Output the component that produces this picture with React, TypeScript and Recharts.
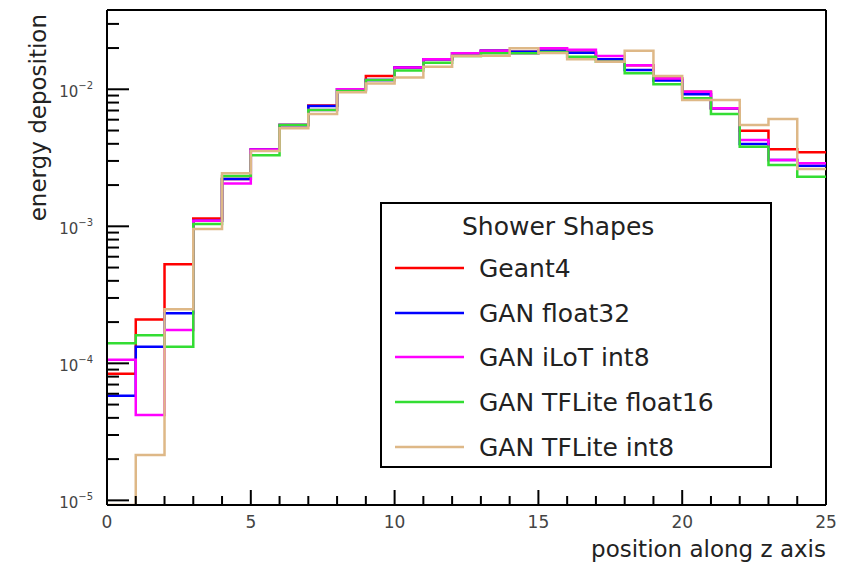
import { ComposedChart, Line, ReferenceLine, XAxis, YAxis } from "recharts";

// bin edges along z (25 bins)
const edges = [0, 1, 2, 3, 4, 5, 6, 7, 8, 9, 10, 11, 12, 13, 14, 15, 16, 17, 18, 19, 20, 21, 22, 23, 24, 25];

const Y_MIN = 9.25e-6;
const Y_MAX = 0.0379;

const geant4 = [8.4e-5, 2.09e-4, 5.28e-4, 1.14e-3, 2.21e-3, 3.64e-3, 5.49e-3, 7.6e-3, 1.0e-2, 1.25e-2, 1.44e-2, 1.66e-2, 1.83e-2, 1.91e-2, 1.88e-2, 1.91e-2, 1.85e-2, 1.66e-2, 1.5e-2, 1.2e-2, 9.6e-3, 7.26e-3, 4.99e-3, 3.65e-3, 3.47e-3];
const ganFloat32 = [5.8e-5, 1.32e-4, 2.32e-4, 1.1e-3, 2.21e-3, 3.64e-3, 5.49e-3, 7.55e-3, 1.0e-2, 1.17e-2, 1.44e-2, 1.66e-2, 1.83e-2, 1.91e-2, 1.88e-2, 1.91e-2, 1.85e-2, 1.66e-2, 1.38e-2, 1.16e-2, 9.2e-3, 7.26e-3, 3.99e-3, 3.05e-3, 2.77e-3];
const ganIlotInt8 = [1.06e-4, 4.2e-5, 1.75e-4, 1.1e-3, 2.05e-3, 3.64e-3, 5.49e-3, 7.06e-3, 1.0e-2, 1.17e-2, 1.44e-2, 1.66e-2, 1.83e-2, 1.91e-2, 1.83e-2, 1.99e-2, 1.94e-2, 1.75e-2, 1.5e-2, 1.2e-2, 9.6e-3, 7.26e-3, 4.27e-3, 3.05e-3, 2.88e-3];
const tfliteFloat16 = [1.4e-4, 1.6e-4, 1.32e-4, 1.04e-3, 2.33e-3, 3.3e-3, 5.49e-3, 7.06e-3, 9.7e-3, 1.17e-2, 1.37e-2, 1.56e-2, 1.75e-2, 1.83e-2, 1.83e-2, 1.87e-2, 1.73e-2, 1.59e-2, 1.31e-2, 1.09e-2, 8.6e-3, 6.6e-3, 3.81e-3, 2.8e-3, 2.3e-3];
const tfliteInt8 = [Y_MIN, 2.14e-5, 2.48e-4, 9.55e-4, 2.44e-3, 3.55e-3, 5.19e-3, 6.6e-3, 9.5e-3, 1.1e-2, 1.22e-2, 1.46e-2, 1.75e-2, 1.76e-2, 1.99e-2, 1.84e-2, 1.66e-2, 1.59e-2, 1.91e-2, 1.25e-2, 8.36e-3, 8.36e-3, 5.49e-3, 6.07e-3, 2.62e-3];

const series = [
  { key: "g4", name: "Geant4", color: "#ff0000", values: geant4 },
  { key: "f32", name: "GAN float32", color: "#0000ff", values: ganFloat32 },
  { key: "ilot", name: "GAN iLoT int8", color: "#ff00ff", values: ganIlotInt8 },
  { key: "f16", name: "GAN TFLite float16", color: "#33dd33", values: tfliteFloat16 },
  { key: "i8", name: "GAN TFLite int8", color: "#deb887", values: tfliteInt8 },
];

const xTicks = edges;
const xLabels = [0, 5, 10, 15, 20, 25];
const decades = [-5, -4, -3, -2];

const yTicks: number[] = [];
decades.forEach((d) => {
  for (let m = 1; m <= 9; m++) {
    const v = m * Math.pow(10, d);
    if (v <= Y_MAX) yTicks.push(v);
  }
});

// histogram rows: the last edge repeats the last bin so stepAfter closes it
const data = edges.map((x) => {
  const row: Record<string, number> = { x };
  const i = Math.min(x, 24);
  series.forEach((s) => (row[s.key] = s.values[i]));
  return row;
});

const FONT = "'DejaVu Sans', sans-serif";

const XTick = (props: any) => {
  const { x, payload } = props;
  const v = payload.value;
  const major = v % 5 === 0;
  return (
    <g>
      <line x1={x} x2={x} y1={505} y2={major ? 490 : 496} stroke="#000" strokeWidth={2} />
      {xLabels.includes(v) && (
        <text x={x} y={528} textAnchor="middle" fontSize={17} fill="#444" fontFamily={FONT}>
          {v}
        </text>
      )}
    </g>
  );
};

const YTick = (props: any) => {
  const { y, payload } = props;
  const v = payload.value;
  const exp = Math.round(Math.log10(v));
  const major = Math.abs(v - Math.pow(10, exp)) < 1e-12;
  return (
    <g>
      <line x1={107} x2={major ? 129 : 119} y1={y} y2={y} stroke="#000" strokeWidth={2} />
      {major && (
        <text x={93} y={y + 8} textAnchor="end" fontSize={15} fill="#444" fontFamily={FONT}>
          <tspan>10</tspan>
          <tspan dy={-8} fontSize={10}>{`\u2212${-exp}`}</tspan>
        </text>
      )}
    </g>
  );
};

const legendRows = [65, 110, 154, 199, 244];

export default function App() {
  return (
    <div style={{ position: "relative", width: 844, height: 562, background: "#fff" }}>
      <style>{"body{margin:0}"}</style>
      <ComposedChart width={844} height={562} data={data} margin={{ top: 10, right: 18, bottom: 0, left: 0 }}>
        <XAxis
          dataKey="x"
          type="number"
          domain={[0, 25]}
          ticks={xTicks}
          interval={0}
          height={57}
          tickLine={false}
          axisLine={{ stroke: "#000", strokeWidth: 2 }}
          tick={<XTick />}
        />
        <YAxis
          scale="log"
          type="number"
          domain={[Y_MIN, Y_MAX]}
          allowDataOverflow
          ticks={yTicks}
          interval={0}
          width={107}
          tickLine={false}
          axisLine={{ stroke: "#000", strokeWidth: 2 }}
          tick={<YTick />}
        />
        <ReferenceLine y={Y_MAX} stroke="#000" strokeWidth={2} />
        <ReferenceLine x={25} stroke="#000" strokeWidth={2} />
        {series.map((s) => (
          <Line
            key={s.key}
            dataKey={s.key}
            type="stepAfter"
            stroke={s.color}
            strokeWidth={2.5}
            dot={false}
            activeDot={false}
            isAnimationActive={false}
          />
        ))}
      </ComposedChart>
      <svg width={844} height={562} style={{ position: "absolute", left: 0, top: 0, pointerEvents: "none" }}>
        <text transform="translate(46,14) rotate(-90)" textAnchor="end" fontSize={23} fill="#222" fontFamily={FONT}>
          energy deposition
        </text>
        <text x={826} y={557} textAnchor="end" fontSize={23} fill="#222" fontFamily={FONT}>
          position along z axis
        </text>
        <g transform="translate(381,203)">
          <rect x={0} y={0} width={390} height={264} fill="#fff" stroke="#000" strokeWidth={2} />
          <text x={81} y={32} fontSize={25} fill="#222" fontFamily={FONT}>
            Shower Shapes
          </text>
          {series.map((s, i) => (
            <g key={s.key}>
              <line x1={14} x2={83} y1={legendRows[i]} y2={legendRows[i]} stroke={s.color} strokeWidth={2.5} />
              <text x={98} y={legendRows[i] + 9} fontSize={25} fill="#222" fontFamily={FONT}>
                {s.name}
              </text>
            </g>
          ))}
        </g>
      </svg>
    </div>
  );
}
